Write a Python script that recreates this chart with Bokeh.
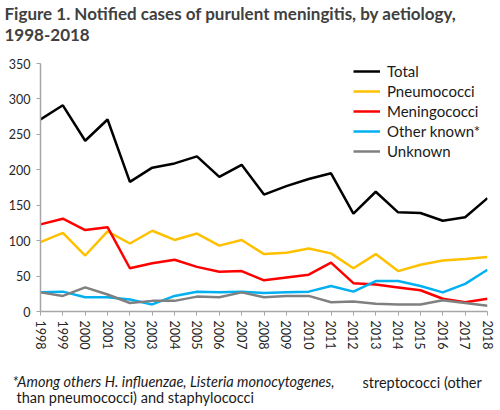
from bokeh.plotting import figure
from bokeh.models import Range1d, Legend, LegendItem, FixedTicker, Title
from bokeh.embed import file_html
from bokeh.resources import INLINE

years = list(range(1998, 2019))
total = [271, 291, 241, 271, 183, 203, 209, 219, 190, 207, 165, 177, 187, 195, 138, 169, 140, 139, 128, 133, 160]
pneumo = [98, 111, 79, 113, 96, 114, 101, 110, 93, 101, 81, 83, 89, 82, 61, 81, 57, 66, 72, 74, 77]
mening = [123, 131, 115, 119, 61, 68, 73, 63, 56, 57, 44, 48, 52, 69, 40, 38, 34, 30, 18, 13, 18]
other = [27, 28, 20, 20, 17, 10, 22, 28, 27, 28, 26, 27, 28, 36, 28, 43, 43, 36, 27, 39, 59]
unknown = [27, 22, 34, 24, 12, 15, 15, 21, 20, 27, 20, 22, 22, 13, 14, 11, 10, 10, 16, 12, 8]

series = [
    ("Total", total, "#000000"),
    ("Pneumococci", pneumo, "#FFC000"),
    ("Meningococci", mening, "#FF0000"),
    ("Other known*", other, "#00B0F0"),
    ("Unknown", unknown, "#808080"),
]

title_lines = ["Figure 1. Notified cases of purulent meningitis, by aetiology,", "1998-2018"]
note_italic = "*Among others H. influenzae, Listeria monocytogenes,"
note_plain_1 = "streptococci  (other"
note_plain_2 = "than pneumococci)  and staphylococci"

FONT = "Lato"
W, H = 500, 410
L, R, T, B = 40, 13, 63, 99

p = figure(width=W, height=H, output_backend="svg", toolbar_location=None,
           x_range=Range1d(1998, 2018), y_range=Range1d(0, 350),
           min_border_left=L, min_border_right=R, min_border_top=T, min_border_bottom=B)
p.title.visible = False
p.outline_line_color = None
p.grid.visible = False

items = []
for name, vals, col in series:
    r = p.line(years, vals, line_color=col, line_width=2.5)
    items.append(LegendItem(label=name, renderers=[r]))

for ax in (p.xaxis[0], p.yaxis[0]):
    ax.axis_line_color = "#A6A6A6"
    ax.axis_line_width = 1.5
    ax.major_tick_line_color = "#A6A6A6"
    ax.minor_tick_line_color = None
    ax.major_tick_in = 0
    ax.major_tick_out = 4
    ax.major_label_text_font = FONT
    ax.major_label_text_font_size = "12.5px"
    ax.major_label_text_color = "#262626"

p.yaxis[0].ticker = FixedTicker(ticks=list(range(0, 351, 50)))
p.xaxis[0].ticker = FixedTicker(ticks=years)
p.xaxis[0].major_label_orientation = "vertical"
p.xaxis[0].major_label_standoff = 5
p.yaxis[0].major_label_standoff = 6

leg = Legend(items=items, location=(313, 150), border_line_color=None,
             background_fill_alpha=0, padding=0, margin=0, spacing=0,
             label_height=20, glyph_height=20, glyph_width=27, label_standoff=7,
             label_text_font=FONT, label_text_font_size="15px", label_text_color="#1a1a1a")
p.add_layout(leg)


def ttl(text, side, offset, standoff, size, style="normal", color="#1a1a1a", valign="bottom"):
    p.add_layout(Title(text=text, align="left", offset=offset, standoff=standoff,
                       vertical_align=valign, text_font=FONT, text_font_size=size,
                       text_font_style=style, text_color=color), side)


# ---- title (above; first added is closest to the plot) ----
ttl(title_lines[1], "above", 100, 6, "17px", "bold", "white", valign="top")   # white spacer row
ttl(title_lines[1], "above", -36, 6, "17px", "bold", "#404040")
ttl(title_lines[0], "above", -36, 0, "17px", "bold", "#404040")

# ---- footnote (below; first added is closest to the axis) ----
ttl(note_plain_2, "below", 100, 10, "14.5px", color="white", valign="top")    # white spacer row
ttl(note_italic, "below", -28, -18, "14.5px", "italic", valign="top")
ttl(note_plain_1, "below", 322, -18, "14.5px", valign="top")
ttl(note_plain_2, "below", -24, 6, "14.5px", valign="bottom")

open("out.html", "w").write(file_html(p, INLINE))
